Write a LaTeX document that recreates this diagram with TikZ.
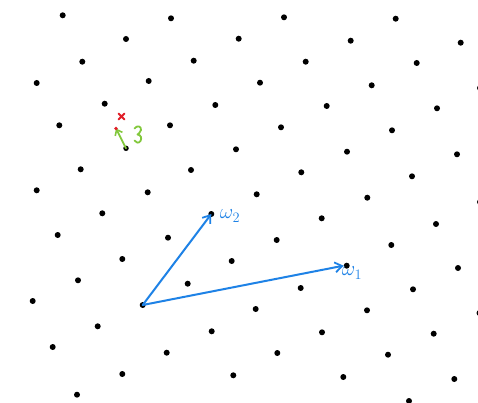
\documentclass[tikz,border=0pt]{standalone}
\usepackage{amsmath}
\usetikzlibrary{arrows.meta}
\definecolor{vecblue}{RGB}{30,130,230}
\definecolor{vecgreen}{RGB}{130,200,60}
\definecolor{xred}{RGB}{225,30,40}
\begin{document}
\begin{tikzpicture}[x=1pt,y=-1pt,
  latdot/.style={circle,fill=black,inner sep=0pt,minimum size=6pt},
  vecarrow/.style={vecblue,line width=2pt,line cap=round,-{Straight Barb[length=7pt,width=10pt,line width=1.8pt]}},
  veclabel/.style={vecblue,inner sep=0pt,font=\fontsize{20}{20}\selectfont},
  greenarrow/.style={vecgreen,line width=1.8pt,line cap=round,-{Straight Barb[length=5pt,width=8pt,line width=1.6pt]}}]
\useasboundingbox (0,0) rectangle (478,403);
\fill[white] (0,0) rectangle (478,403);
% lattice points
\foreach \px/\py [count=\i] in {
 62.7/15.3, 171/18.3, 284/17.3, 395.7/18.7,
 126/39, 238.7/38.7, 350.7/40.7, 460.7/42.7,
 82.3/61.7, 193.7/60.7, 305.7/61.7, 416.7/63,
 36.7/83, 148.7/81, 260/82.7, 371.7/85.3, 480/88,
 104.7/103.7, 215.3/105, 326.7/106, 437/108.3,
 59.3/125.3, 170/125.3, 281/127.3, 392/130.3,
 236/149.3, 347/151.7, 457/154.3,
 80.7/169.3, 191/170, 301.3/172.3, 412/176.3,
 36.7/190.3, 147.7/192.3, 256.7/194.3, 367.3/197.7, 480/202,
 102.3/213.3, 321.7/218.3, 436/224,
 57.7/235, 168/237.7, 276.7/240, 391.3/245,
 122.3/259, 231.7/261, 458/268,
 78/280.3, 187.7/283.7, 300.7/288, 413/289.3,
 32.7/301, 255.7/309, 367/310.3, 479.5/313,
 97.7/326.3, 211.7/331.3, 322/332.3, 433.7/333.7,
 52.7/347, 166.7/352.7, 277.3/353, 388/354.7,
 122.3/374, 233.3/375.3, 343.3/377, 454.3/379,
 77/394.7, 409/401}
 \node[latdot] (p\i) at (\px,\py) {};
% special lattice points
\node[latdot] (o) at (142.7,305) {};
\node[latdot] (w1) at (346.7,265.7) {};
\node[latdot] (w2) at (211.3,214) {};
\node[latdot,minimum size=5.5pt] (g) at (126,148.3) {};
% basis vectors
\draw[vecarrow] (o.center) -- (w1.west);
\draw[vecarrow] (o.center) -- (w2.center);
\node[veclabel] (l1) at (352,273) {$\omega_{1}$};
\node[veclabel] (l2) at (230,216) {$\omega_{2}$};
% green displacement and red point
\coordinate (gt) at (116,128.5);
\draw[greenarrow] (g.center) -- (gt);
\fill[xred] (gt) circle (1.8pt);
\coordinate (xr) at (121.5,116.5);
\draw[xred,line width=1.8pt,line cap=round] ([shift={(-3,-3)}]xr) -- ([shift={(3,3)}]xr)
  ([shift={(-3,3)}]xr) -- ([shift={(3,-3)}]xr);
\draw[vecgreen,line width=1.8pt,line cap=round,line join=round]
  (134.5,128.5) .. controls (137,125) and (141.5,126) .. (141,130)
  .. controls (140.7,133) and (138,133.5) .. (137.5,134.5)
  .. controls (141,135) and (142,138) .. (140.5,141)
  .. controls (139,143.5) and (135.5,143) .. (134.5,140.5);
\end{tikzpicture}
\end{document}
